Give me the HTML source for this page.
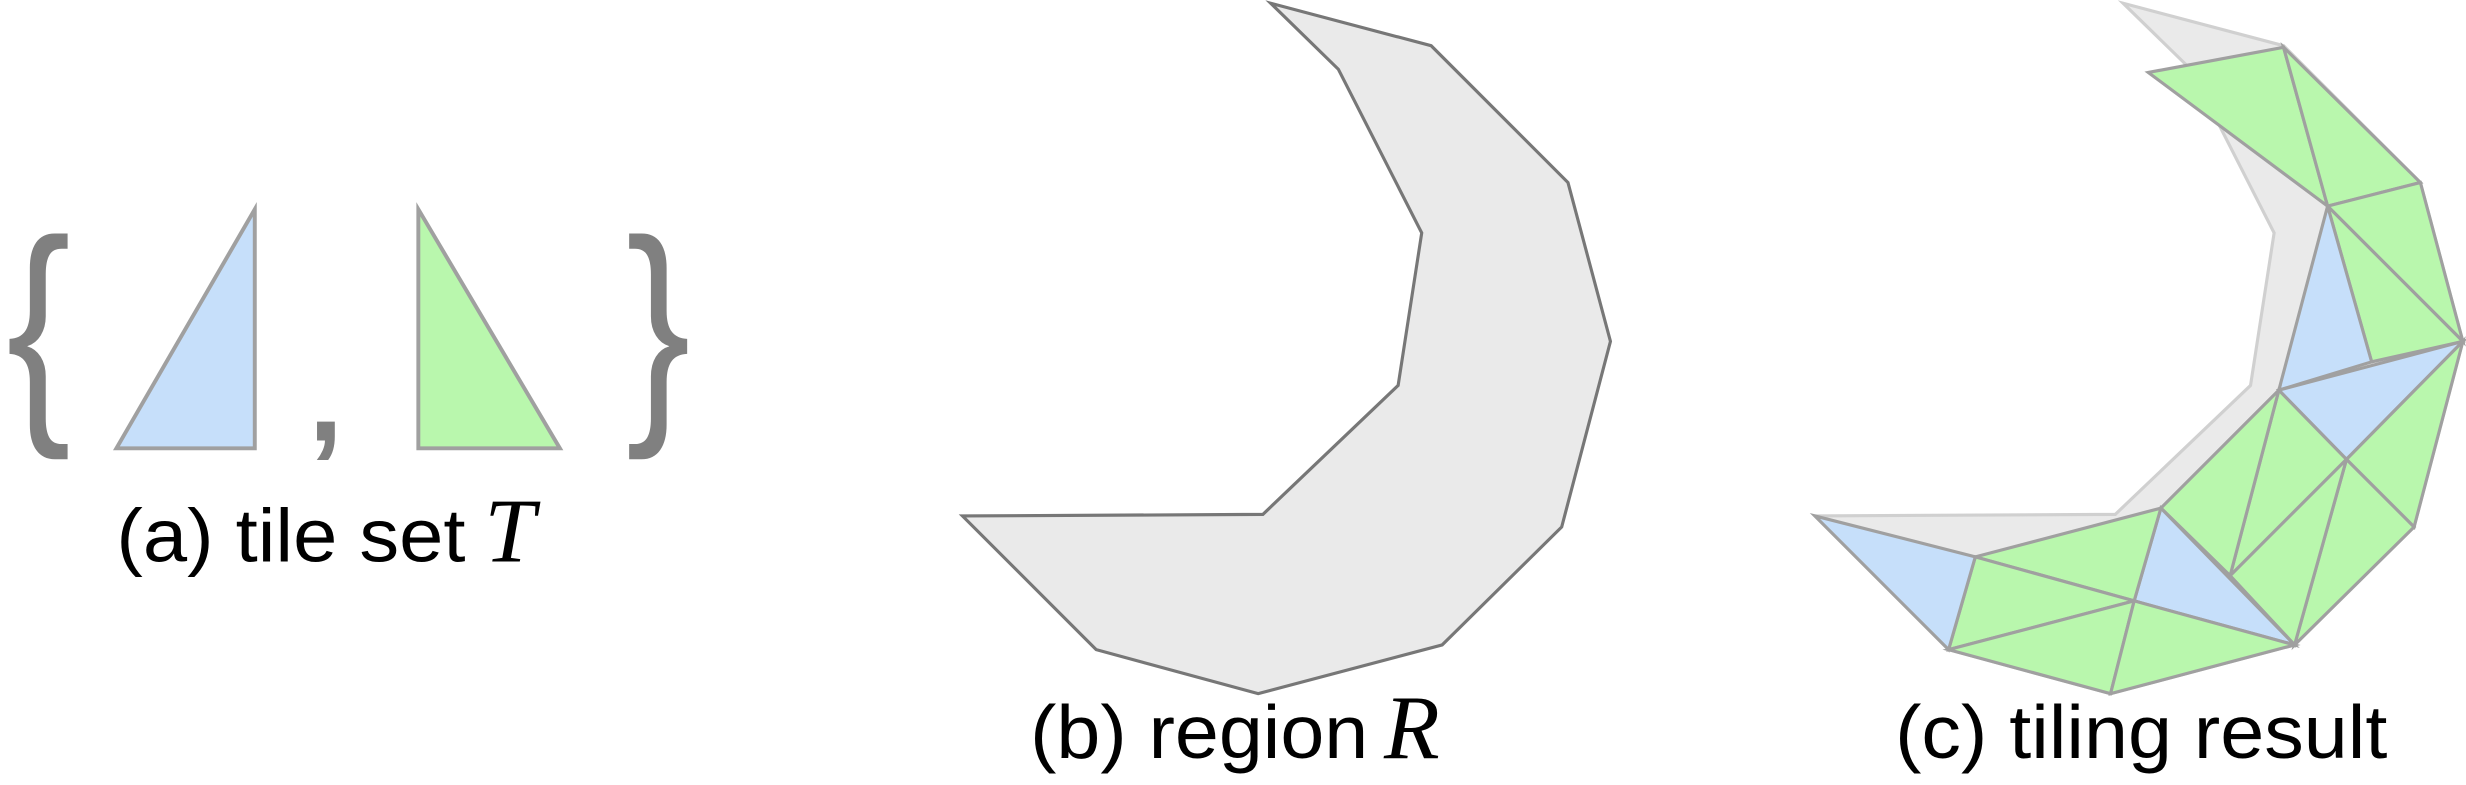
<!DOCTYPE html>
<html><head><meta charset="utf-8"><style>
html,body{margin:0;padding:0;background:#fff;}
svg{display:block;}
text{font-family:"Liberation Sans",sans-serif;fill:#000;}
</style></head><body>
<svg width="2466" height="785" viewBox="0 0 1568 499">
<!-- panel a -->
<g>
<text x="0" y="0" font-size="154" style="fill:#808080" transform="translate(4,260) scale(0.8,1)">{</text>
<polygon points="74,285 162,133 162,285" fill="#c6dffa" stroke="#a0a0a0" stroke-width="2.5"/>
<text x="196" y="280" font-size="80" font-weight="bold" style="fill:#808080">,</text>
<polygon points="266,133 266,285 356,285" fill="#b9f7ad" stroke="#a0a0a0" stroke-width="2.5"/>
<text x="0" y="0" font-size="154" style="fill:#808080" transform="translate(398,260) scale(0.8,1)">}</text>
<text x="74" y="357" font-size="48" textLength="222" lengthAdjust="spacingAndGlyphs">(a) tile set</text>
<text x="308" y="357" font-size="58" font-style="italic" style="font-family:'Liberation Serif',serif">T</text>
</g>
<!-- panel b -->
<g>
<polygon points="808,2 910,29 997,116 1024,217 993,335 917,410 800,441 697,413 612,328 803,327 889,245 904,148 851,44" fill="#eaeaea" stroke="#777" stroke-width="2"/>
<text x="655" y="482" font-size="48" textLength="215" lengthAdjust="spacingAndGlyphs">(b) region</text>
<text x="880" y="482" font-size="58" font-style="italic" style="font-family:'Liberation Serif',serif">R</text>
</g>
<!-- panel c -->
<g stroke="#a0a0a0" stroke-width="2">
<polygon points="1350,2 1452,29 1539,116 1566,217 1535,335 1459,410 1342,441 1239,413 1154,328 1345,327 1431,245 1446,148 1393,44" fill="#eaeaea" stroke="#d0d0d0"/>
<polygon points="1366,46 1452,30 1480,131" fill="#b9f7ad"/>
<polygon points="1452,30 1539,116 1480,131" fill="#b9f7ad"/>
<polygon points="1480,131 1539,116 1566,217" fill="#b9f7ad"/>
<polygon points="1480,131 1566,217 1508,230" fill="#b9f7ad"/>
<polygon points="1480,131 1508,230 1449,248" fill="#c6dffa"/>
<polygon points="1449,248 1566,217 1492,292" fill="#c6dffa"/>
<polygon points="1566,217 1535,335 1492,292" fill="#b9f7ad"/>
<polygon points="1492,292 1535,335 1459,410" fill="#b9f7ad"/>
<polygon points="1449,248 1492,292 1418,366" fill="#b9f7ad"/>
<polygon points="1418,366 1492,292 1459,410" fill="#b9f7ad"/>
<polygon points="1374,323 1449,248 1418,366" fill="#b9f7ad"/>
<polygon points="1374,323 1418,366 1459,410" fill="#b9f7ad"/>
<polygon points="1374,323 1357,382 1459,410" fill="#c6dffa"/>
<polygon points="1256,354 1374,323 1357,382" fill="#b9f7ad"/>
<polygon points="1256,354 1357,382 1239,413" fill="#b9f7ad"/>
<polygon points="1239,413 1357,382 1342,441" fill="#b9f7ad"/>
<polygon points="1357,382 1459,410 1342,441" fill="#b9f7ad"/>
<polygon points="1154,328 1256,354 1239,413" fill="#c6dffa"/>
</g>
<text x="1205" y="482" font-size="48" textLength="313" lengthAdjust="spacingAndGlyphs">(c) tiling result</text>
</svg>
</body></html>
